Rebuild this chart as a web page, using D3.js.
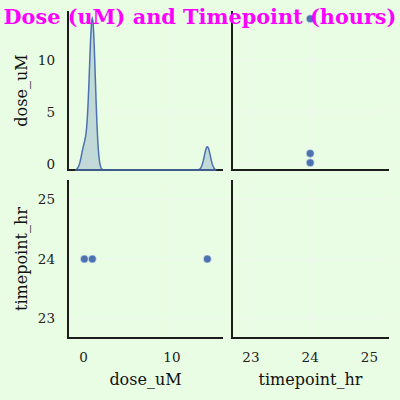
<!DOCTYPE html>
<html><head><meta charset="utf-8">
<script src="https://cdn.jsdelivr.net/npm/d3@7"></script>
<style>body{margin:0;background:#e8fde4;} svg{display:block;}</style>
</head><body>
<svg id="c" width="400" height="400"></svg>
<script>
// ---- data ----
const doseValues = [0.1, 1, 14];          // distinct doses (uM)
const doseCounts = [2, 13, 2];            // replicate counts per dose
const timepointValues = [24, 24, 24];     // hours
const doseTicks = [0, 5, 10];
const doseXTicks = [0, 10];
const timeTicks = [23, 24, 25];
const kdeBandwidth = 0.34;
const titleText = "Dose (uM) and Timepoint (hours)";

const svg = d3.select("#c");
const bg = "#e8fde4", gridC = "#f1f6ee", spineC = "#1c1c1c", blue = "#4c72b0";
const font = "'DejaVu Serif', serif";
svg.append("rect").attr("width",400).attr("height",400).attr("fill",bg);

const col = [[68,223],[232,389]];
const row = [[11,170],[180,338]];

const xDose = d3.scaleLinear().domain([-1.75,15.77]).range(col[0]);
const xTime = d3.scaleLinear().domain([22.68,25.33]).range(col[1]);
const yDose = d3.scaleLinear().domain([-0.6,14.75]).range([row[0][1],row[0][0]]);
const yTime = d3.scaleLinear().domain([22.67,25.33]).range([row[1][1],row[1][0]]);

function grid(xs, xt, ys, yt, c, r){
  const g = svg.append("g");
  g.selectAll(".gx").data(xt).join("line")
    .attr("x1",d=>xs(d)).attr("x2",d=>xs(d)).attr("y1",row[r][0]).attr("y2",row[r][1])
    .attr("stroke",gridC).attr("stroke-width",1);
  g.selectAll(".gy").data(yt).join("line")
    .attr("y1",d=>ys(d)).attr("y2",d=>ys(d)).attr("x1",col[c][0]).attr("x2",col[c][1])
    .attr("stroke",gridC).attr("stroke-width",1);
}
grid(xDose, doseXTicks, yDose, doseTicks, 0, 0);
grid(xTime, timeTicks, yDose, doseTicks, 1, 0);
grid(xDose, doseXTicks, yTime, timeTicks, 0, 1);
grid(xTime, timeTicks, yTime, timeTicks, 1, 1);

// ---- KDE (diagonal) ----
const lo = d3.min(doseValues) - 3*kdeBandwidth, hi = d3.max(doseValues) + 3*kdeBandwidth;
const nTot = d3.sum(doseCounts);
const gridPts = d3.range(0, 301).map(i => lo + (hi-lo)*i/300);
const kde = gridPts.map(x => [x, d3.sum(doseValues, (v,i) => doseCounts[i]*Math.exp(-0.5*((x-v)/kdeBandwidth)**2)) / (nTot*kdeBandwidth*Math.sqrt(2*Math.PI))]);
const yKde = d3.scaleLinear().domain([0, d3.max(kde, d=>d[1])*1.05]).range([row[0][1],row[0][0]]);
svg.append("path").datum(kde)
  .attr("d", d3.area().x(d=>xDose(d[0])).y0(yKde(0)).y1(d=>yKde(d[1])))
  .attr("fill", blue).attr("fill-opacity",0.25);
svg.append("path").datum(kde)
  .attr("d", d3.line().x(d=>xDose(d[0])).y(d=>yKde(d[1])))
  .attr("fill","none").attr("stroke",blue).attr("stroke-width",1.5);

// ---- scatters ----
const pts = doseValues.map((d,i)=>({dose:d, time:timepointValues[i]}));
svg.append("g").selectAll("circle").data(pts).join("circle")
  .attr("cx",d=>xTime(d.time)).attr("cy",d=>yDose(d.dose)).attr("r",4)
  .attr("fill",blue).attr("stroke","#e8f0f4").attr("stroke-width",0.6);
svg.append("g").selectAll("circle").data(pts).join("circle")
  .attr("cx",d=>xDose(d.dose)).attr("cy",d=>yTime(d.time)).attr("r",4)
  .attr("fill",blue).attr("stroke","#e8f0f4").attr("stroke-width",0.6);

// ---- spines ----
for (let c=0;c<2;c++) for (let r=0;r<2;r++){
  svg.append("line").attr("x1",col[c][0]).attr("x2",col[c][0]).attr("y1",row[r][0]).attr("y2",row[r][1]+1)
    .attr("stroke",spineC).attr("stroke-width",2);
  svg.append("line").attr("x1",col[c][0]-1).attr("x2",col[c][1]).attr("y1",row[r][1]).attr("y2",row[r][1])
    .attr("stroke",spineC).attr("stroke-width",2);
}
// KDE baseline over spine
svg.append("line").attr("x1",xDose(lo)).attr("x2",xDose(hi)).attr("y1",row[0][1]).attr("y2",row[0][1])
  .attr("stroke",blue).attr("stroke-width",1.5);

// ---- tick labels ----
const tk = {"font-family":font,"font-size":"13.5px","fill":"#222"};
function applyA(sel,a){for(const k in a) sel.attr(k,a[k]); return sel;}
applyA(svg.append("g").selectAll("text").data(doseTicks).join("text")
  .attr("x",55).attr("y",d=>yDose(d)).attr("dy","0.36em").attr("text-anchor","end").text(d=>d), tk);
applyA(svg.append("g").selectAll("text").data(timeTicks).join("text")
  .attr("x",55).attr("y",d=>yTime(d)).attr("dy","0.36em").attr("text-anchor","end").text(d=>d), tk);
applyA(svg.append("g").selectAll("text").data(doseXTicks).join("text")
  .attr("x",d=>xDose(d)).attr("y",361.5).attr("text-anchor","middle").text(d=>d), tk);
applyA(svg.append("g").selectAll("text").data(timeTicks).join("text")
  .attr("x",d=>xTime(d)).attr("y",361.5).attr("text-anchor","middle").text(d=>d), tk);

// ---- axis labels ----
const lb = {"font-family":font,"font-size":"16px","fill":"#111","text-anchor":"middle"};
applyA(svg.append("text").attr("x",(col[0][0]+col[0][1])/2).attr("y",385).text("dose_uM"), lb);
applyA(svg.append("text").attr("x",(col[1][0]+col[1][1])/2).attr("y",385).text("timepoint_hr"), lb);
applyA(svg.append("text").attr("transform",`translate(27,${(row[0][0]+row[0][1])/2}) rotate(-90)`).text("dose_uM"), lb);
applyA(svg.append("text").attr("transform",`translate(27,${(row[1][0]+row[1][1])/2}) rotate(-90)`).text("timepoint_hr"), lb);

// ---- title ----
svg.append("text").attr("x",200).attr("y",24).attr("text-anchor","middle")
  .attr("font-family",font).attr("font-weight","bold").attr("font-size","20.8px")
  .attr("fill","#ff00ff").text(titleText);
</script>
</body></html>
